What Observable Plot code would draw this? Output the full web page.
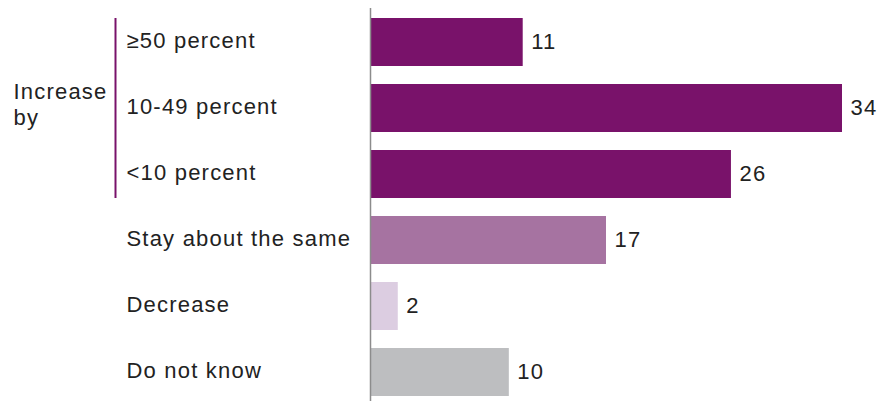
<!DOCTYPE html>
<html>
<head>
<meta charset="utf-8">
<script src="https://cdn.jsdelivr.net/npm/d3@7"></script>
<script src="https://cdn.jsdelivr.net/npm/@observablehq/plot@0.6"></script>
<style>
  html, body { margin: 0; padding: 0; background: #fff; }
</style>
</head>
<body>
<div id="chart"></div>
<script>
const categories = ["≥50 percent", "10-49 percent", "<10 percent", "Stay about the same", "Decrease", "Do not know"];
const values = [11, 34, 26, 17, 2, 10];
const groups = ["Increase", "Increase", "Increase", "Same", "Decrease", "Unknown"];
const groupLabel = "Increase\nby";
const bracketFrom = categories[0];
const bracketTo = categories[2];
const groupCenter = categories[1];

const data = categories.map((c, i) => ({category: c, value: values[i], group: groups[i]}));

const purple = "#79126a";

const chart = Plot.plot({
  width: 891,
  height: 401,
  marginLeft: 370,
  marginRight: 49,
  marginTop: 8,
  marginBottom: 0,
  style: {fontFamily: "'Liberation Sans', Arial, sans-serif", fontSize: "22px", letterSpacing: "1.2px", color: "#222", background: "#fff"},
  x: {axis: null},
  y: {domain: categories, range: [16, 397], paddingInner: 0.28, paddingOuter: 0, axis: null},
  color: {domain: ["Increase", "Same", "Decrease", "Unknown"], range: [purple, "#a673a1", "#dccde1", "#bdbec0"]},
  marks: [
    Plot.barX(data, {x: "value", y: "category", fill: "group"}),
    Plot.ruleX([0], {stroke: "#8c8c8c", strokeWidth: 1.5}),
    Plot.text(data, {x: "value", y: "category", text: d => String(d.value), textAnchor: "start", dx: 8, dy: -1, fill: "#222", fontSize: 22}),
    Plot.axisY({tickSize: 0, tickPadding: 0, textAnchor: "start", dx: -244, dy: -2, fontSize: 22, fill: "#222", label: null}),
    Plot.ruleX([0], {x: d => d, y1: () => bracketFrom, y2: () => bracketTo, dx: -255, stroke: purple, strokeWidth: 2}),
    Plot.text([groupLabel], {frameAnchor: "left", y: () => groupCenter, text: d => d, textAnchor: "start", lineAnchor: "middle", lineHeight: 1.2, dx: -357, dy: -5, fill: "#222", fontSize: 22})
  ]
});

document.getElementById("chart").appendChild(chart);
</script>
</body>
</html>
